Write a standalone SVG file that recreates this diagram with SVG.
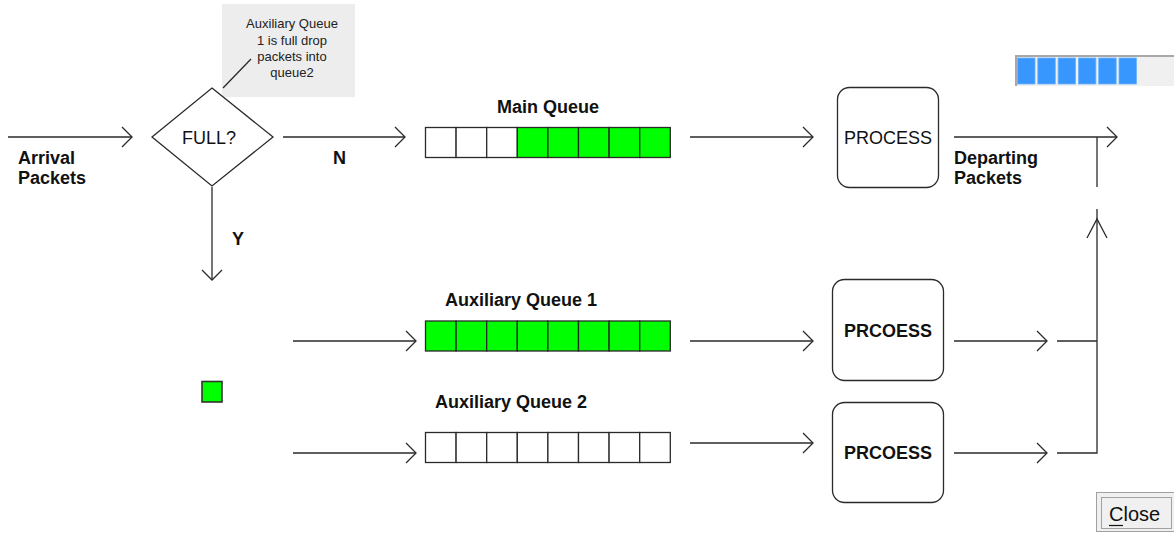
<svg xmlns="http://www.w3.org/2000/svg" width="1174" height="533" viewBox="0 0 1174 533">
<defs>
<style>
.ln{fill:none;stroke:#2a2a2a;stroke-width:1.3}
.lbl{font-family:"Liberation Sans",Arial,sans-serif;font-size:18px;font-weight:bold;fill:#111}
.box{fill:#fff;stroke:#2a2a2a;stroke-width:1.3}
.cellw{fill:#fff;stroke:#2a2a2a;stroke-width:1.3}
.cellg{fill:#00ff00;stroke:#2a2a2a;stroke-width:1.3}
.note{font-family:"Liberation Sans",Arial,sans-serif;font-size:13px;fill:#222;text-anchor:middle}
.blk{fill:#3797ff;stroke:#6ab4ff;stroke-width:0.8}
</style>
<marker id="ah" markerUnits="userSpaceOnUse" markerWidth="12" markerHeight="22" refX="10" refY="10" orient="auto" viewBox="-1 -1 12 22">
<path d="M0,0 L10,10 L0,20" fill="none" stroke="#2a2a2a" stroke-width="1.3"/>
</marker>
</defs>
<rect width="1174" height="533" fill="#fff"/>

<g id="connectors">
<line class="ln" x1="8" y1="137" x2="132" y2="137" marker-end="url(#ah)"/>
<line class="ln" x1="283" y1="137" x2="405" y2="137" marker-end="url(#ah)"/>
<line class="ln" x1="212" y1="187" x2="212" y2="280" marker-end="url(#ah)"/>
<line class="ln" x1="690" y1="137" x2="813" y2="137" marker-end="url(#ah)"/>
<line class="ln" x1="954" y1="137" x2="1117" y2="137" marker-end="url(#ah)"/>
<line class="ln" x1="1097" y1="137" x2="1097" y2="187"/>
<line class="ln" x1="293" y1="341" x2="416" y2="341" marker-end="url(#ah)"/>
<line class="ln" x1="293" y1="453" x2="416" y2="453" marker-end="url(#ah)"/>
<line class="ln" x1="690" y1="341" x2="813" y2="341" marker-end="url(#ah)"/>
<line class="ln" x1="690" y1="443" x2="813" y2="443" marker-end="url(#ah)"/>
<line class="ln" x1="954" y1="341" x2="1047" y2="341" marker-end="url(#ah)"/>
<line class="ln" x1="954" y1="453" x2="1047" y2="453" marker-end="url(#ah)"/>
<polyline class="ln" points="1057,341 1097,341"/>
<polyline class="ln" points="1057,453 1097,453 1097,209"/>
<path class="ln" d="M1087,238 L1097,219 L1107,238"/>
<line class="ln" x1="223" y1="88" x2="251" y2="59"/>
</g>

<g id="note">
<rect x="222" y="4" width="133" height="93" fill="#ededed"/>
<line class="ln" x1="223" y1="88" x2="251" y2="59"/>
<text class="note" x="292" y="28">Auxiliary Queue</text>
<text class="note" x="292" y="44.5">1 is full drop</text>
<text class="note" x="292" y="61">packets into</text>
<text class="note" x="292" y="77">queue2</text>
</g>

<g id="arrival">
<text class="lbl" x="18" y="164">Arrival</text>
<text class="lbl" x="18" y="184">Packets</text>
</g>

<g id="decision">
<polygon class="box" points="212,88 273,137 212,186 152,137"/>
<text x="209" y="143.5" font-family="'Liberation Sans',Arial,sans-serif" font-size="18" fill="#111" text-anchor="middle">FULL?</text>
</g>

<g id="label-n"><text class="lbl" x="333" y="164">N</text></g>
<g id="label-y"><text class="lbl" x="232" y="245">Y</text></g>

<g id="main-queue">
<text class="lbl" x="548" y="112.5" text-anchor="middle">Main Queue</text>
<rect class="cellw" x="425.5" y="127.5" width="30.6" height="30"/>
<rect class="cellw" x="456.1" y="127.5" width="30.6" height="30"/>
<rect class="cellw" x="486.7" y="127.5" width="30.6" height="30"/>
<rect class="cellg" x="517.3" y="127.5" width="30.6" height="30"/>
<rect class="cellg" x="547.9" y="127.5" width="30.6" height="30"/>
<rect class="cellg" x="578.5" y="127.5" width="30.6" height="30"/>
<rect class="cellg" x="609.1" y="127.5" width="30.6" height="30"/>
<rect class="cellg" x="639.7" y="127.5" width="30.6" height="30"/>
</g>

<g id="aux-queue-1">
<text class="lbl" x="521" y="306" text-anchor="middle">Auxiliary Queue 1</text>
<rect class="cellg" x="425.5" y="321" width="30.6" height="30"/>
<rect class="cellg" x="456.1" y="321" width="30.6" height="30"/>
<rect class="cellg" x="486.7" y="321" width="30.6" height="30"/>
<rect class="cellg" x="517.3" y="321" width="30.6" height="30"/>
<rect class="cellg" x="547.9" y="321" width="30.6" height="30"/>
<rect class="cellg" x="578.5" y="321" width="30.6" height="30"/>
<rect class="cellg" x="609.1" y="321" width="30.6" height="30"/>
<rect class="cellg" x="639.7" y="321" width="30.6" height="30"/>
</g>

<g id="aux-queue-2">
<text class="lbl" x="511" y="408" text-anchor="middle">Auxiliary Queue 2</text>
<rect class="cellw" x="425.5" y="432.5" width="30.6" height="30"/>
<rect class="cellw" x="456.1" y="432.5" width="30.6" height="30"/>
<rect class="cellw" x="486.7" y="432.5" width="30.6" height="30"/>
<rect class="cellw" x="517.3" y="432.5" width="30.6" height="30"/>
<rect class="cellw" x="547.9" y="432.5" width="30.6" height="30"/>
<rect class="cellw" x="578.5" y="432.5" width="30.6" height="30"/>
<rect class="cellw" x="609.1" y="432.5" width="30.6" height="30"/>
<rect class="cellw" x="639.7" y="432.5" width="30.6" height="30"/>
</g>

<g id="packet">
<rect x="202" y="381.5" width="20" height="20.5" fill="#00ff00" stroke="#333" stroke-width="1.6"/>
</g>

<g id="process-main">
<rect class="box" x="837.5" y="87.5" width="101" height="100" rx="12"/>
<text x="888" y="143.5" font-family="'Liberation Sans',Arial,sans-serif" font-size="18" fill="#111" text-anchor="middle">PROCESS</text>
</g>

<g id="process-aux1">
<rect class="box" x="832.5" y="279.5" width="111" height="101" rx="12"/>
<text class="lbl" x="888" y="337" text-anchor="middle">PRCOESS</text>
</g>

<g id="process-aux2">
<rect class="box" x="832.5" y="402.5" width="111" height="100" rx="12"/>
<text class="lbl" x="888" y="459" text-anchor="middle">PRCOESS</text>
</g>

<g id="departing">
<text class="lbl" x="954" y="164">Departing</text>
<text class="lbl" x="954" y="184">Packets</text>
</g>

<g id="progress">
<rect x="1015" y="55" width="160" height="31" fill="#f0f0f0"/>
<polyline points="1016,86 1016,56 1174,56" fill="none" stroke="#a8a8a8" stroke-width="2"/>
<rect class="blk" x="1017.5" y="58" width="17.5" height="26"/>
<rect class="blk" x="1037.8" y="58" width="17.5" height="26"/>
<rect class="blk" x="1058.1" y="58" width="17.5" height="26"/>
<rect class="blk" x="1078.4" y="58" width="17.5" height="26"/>
<rect class="blk" x="1098.7" y="58" width="17.5" height="26"/>
<rect class="blk" x="1119" y="58" width="17.5" height="26"/>
</g>

<g id="close-button">
<rect x="1096.5" y="492.5" width="79" height="39" fill="#f0f0f0" stroke="#a0a0a0" stroke-width="1"/>
<rect x="1101.5" y="497.5" width="70" height="31" fill="none" stroke="#555" stroke-width="1" stroke-dasharray="1,1"/>
<text x="1109" y="521" font-family="'Liberation Sans',Arial,sans-serif" font-size="20" fill="#111">Close</text>
<line x1="1109" y1="525.5" x2="1123" y2="525.5" stroke="#111" stroke-width="1.2"/>
</g>
</svg>
